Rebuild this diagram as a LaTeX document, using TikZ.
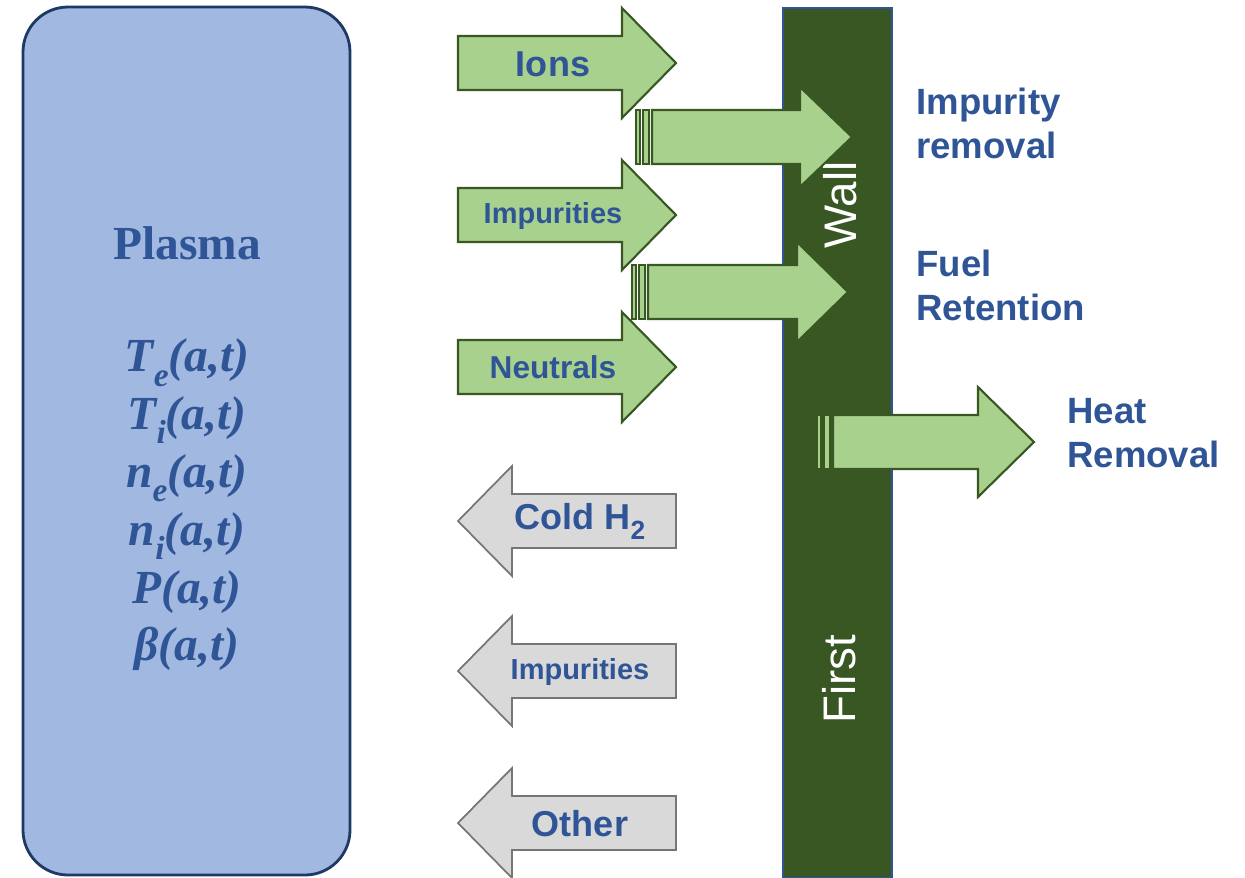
\documentclass[tikz,border=0pt]{standalone}
\usepackage{fontspec}
\setmainfont{Liberation Serif}
\setsansfont{Liberation Sans}
\usepackage{tikz}
\usetikzlibrary{positioning}

\definecolor{plasmafill}{RGB}{161,184,225}
\definecolor{plasmaline}{HTML}{1F3864}
\definecolor{textblue}{HTML}{2F5597}
\definecolor{fluxgreen}{HTML}{A9D18E}
\definecolor{walldark}{HTML}{385723}
\definecolor{backgray}{HTML}{D9D9D9}
\definecolor{backline}{HTML}{767676}

% block arrow: style, tail x, head base x, tip x, mid y, half head
\newcommand{\fluxarrow}[6]{%
  \draw[#1] (#2,#5-27) -- (#3,#5-27) -- (#3,#5-#6) -- (#4,#5)
    -- (#3,#5+#6) -- (#3,#5+27) -- (#2,#5+27) -- cycle;}
% two stripes in front of a striped arrow: style, x, mid y
\newcommand{\fluxstripes}[3]{%
  \draw[#1] (#2,#3-27) rectangle (#2+4,#3+27);
  \draw[#1] (#2+7,#3-27) rectangle (#2+13,#3+27);}
% low subscripts as in the slide
\newcommand{\lowsub}[1]{\raisebox{-0.3em}{\fontsize{19}{19}\selectfont #1}}
\newcommand{\smallsub}[1]{\raisebox{-0.28em}{\fontsize{15}{15}\selectfont #1}}

\begin{document}
\begin{tikzpicture}[x=0.02cm, y=-0.02cm,
  fluxin/.style={fill=fluxgreen, draw=walldark, line width=1.2pt, line join=miter},
  fluxback/.style={fill=backgray, draw=backline, line width=1pt, line join=miter},
  fluxlabel/.style={text=textblue, inner sep=0pt, font=\sffamily\bfseries\fontsize{20.5}{25}\selectfont},
  smalllabel/.style={fluxlabel, font=\sffamily\bfseries\fontsize{16.5}{20}\selectfont},
  sidelabel/.style={fluxlabel, anchor=west, align=left, font=\sffamily\bfseries\fontsize{20.8}{25}\selectfont},
  walllabel/.style={text=white, inner sep=0pt, rotate=90, font=\sffamily\fontsize{26}{30}\selectfont}]
\useasboundingbox (0,0) rectangle (1245,877);

% Plasma column
\draw[fill=plasmafill, draw=plasmaline, line width=1.6pt, rounded corners=0.9cm]
    (23,7) rectangle (350,875);
\node[text=textblue, font=\bfseries\fontsize{27}{32}\selectfont] (plasma) at (187,243) {Plasma};
\node[text=textblue, align=center, font=\bfseries\itshape\fontsize{27}{32.9}\selectfont] (profiles) at (187,505)
    {T\lowsub{e}(a,t)\\ T\lowsub{i}(a,t)\\ n\lowsub{e}(a,t)\\
     n\lowsub{i}(a,t)\\ P(a,t)\\ β(a,t)};

% First wall
\draw[fill=walldark, draw=textblue, line width=0.8pt] (783,8) rectangle (892,878);
\node[walllabel] (wall) at (840,205) {Wall};
\node[walllabel] (first) at (839,679) {First};

% Fluxes towards the wall
\fluxarrow{fluxin}{458}{622}{676}{63}{55}
\fluxarrow{fluxin}{458}{622}{676}{215}{55}
\fluxarrow{fluxin}{458}{622}{676}{367}{55}
\node[fluxlabel] (ions) at (553,64) {Ions};
\node[smalllabel] (impin) at (553,216) {Impurities};
\node[fluxlabel, font=\sffamily\bfseries\fontsize{18}{22}\selectfont] (neutrals) at (553,367) {Neutrals};

% Fluxes into the wall
\fluxstripes{fluxin}{636}{137}
\fluxarrow{fluxin}{652}{800}{852}{137}{50}
\fluxstripes{fluxin}{632}{292}
\fluxarrow{fluxin}{648}{797}{848}{292}{50}
\fluxstripes{fluxin, draw=walldark}{817}{442}
\fluxarrow{fluxin}{833}{978}{1034}{442}{55}

\node[sidelabel] (impremoval) at (916,123) {Impurity\\removal};
\node[sidelabel] (fuel) at (916,285) {Fuel\\Retention};
\node[sidelabel] (heat) at (1067,433) {Heat\\Removal};

% Fluxes back to the plasma
\fluxarrow{fluxback}{676}{512}{458}{521}{55}
\fluxarrow{fluxback}{676}{512}{458}{671}{55}
\fluxarrow{fluxback}{676}{512}{458}{823}{55}
\node[fluxlabel] (cold) at (580,521) {Cold H\smallsub{2}};
\node[smalllabel] (impback) at (580,672) {Impurities};
\node[fluxlabel] (other) at (580,824) {Other};
\end{tikzpicture}
\end{document}
